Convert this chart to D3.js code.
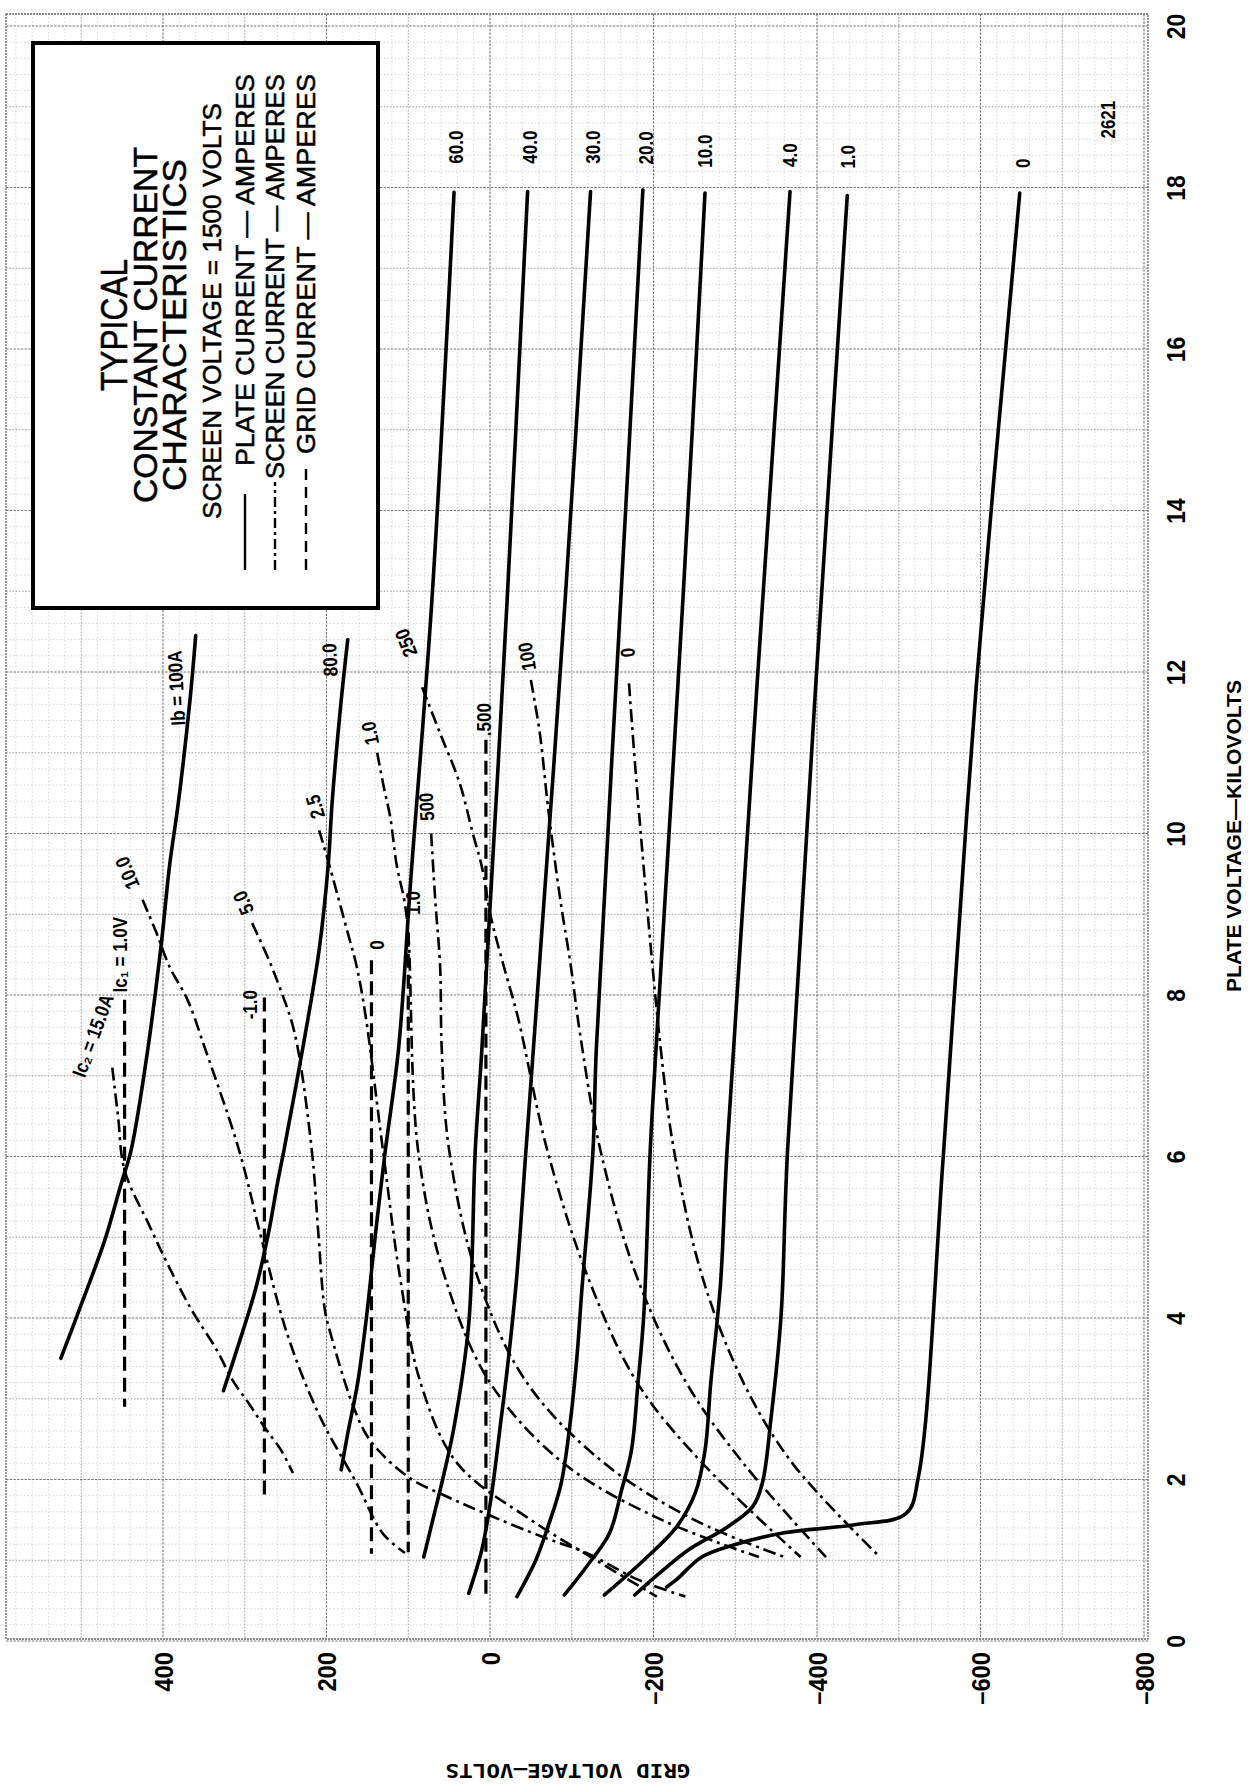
<!DOCTYPE html>
<html><head><meta charset="utf-8">
<script src="https://cdn.jsdelivr.net/npm/d3@7"></script>
<style>body{margin:0;background:#fff}</style>
</head><body>
<svg id="c" width="1259" height="1788"></svg>
<script>
// ---------- data (plate kV, grid volts) ----------
const plateTicks = [0,2,4,6,8,10,12,14,16,18,20];
const gridTicks = [400,200,0,-200,-400,-600,-800];

// plate current curves (solid)
const ib100 = [[12.45,360],[11.65,367],[10.4,381],[9.6,392],[8.64,402],[7.3,419],[6.08,439],[5.67,451],[4.97,471],[4.22,498],[3.5,525]];
const ib80  = [[12.4,174],[11.65,182],[10.4,193],[9.6,198],[8.56,209],[7.4,228],[6.08,252],[5.67,260],[5.05,271],[4.35,287],[3.69,307],[3.1,326]];
const ib60  = [[17.94,44],[12.9,71],[9.42,97],[7.32,112],[6.08,128],[5.05,140],[4.02,151],[3.19,162],[2.57,174],[2.12,182]];
const ib40  = [[17.95,-46],[12.9,-21],[7.32,10],[6.08,18],[3.93,26],[2.65,44],[2.04,57],[1.54,69],[1.04,81]];
const ib30  = [[17.95,-123],[12.9,-92],[7.32,-53],[6.08,-44],[4.43,-32],[3.36,-21],[2.7,-13],[1.75,-1],[1.13,10],[0.59,26]];
const ib20  = [[17.97,-187],[12.9,-160],[7.32,-130],[6.08,-126],[4.3,-112],[3.6,-107],[2.78,-99],[1.95,-87],[1.42,-71],[1.0,-56],[0.55,-33]];
const ib10  = [[17.93,-263],[12.9,-236],[7.32,-203],[6.08,-196],[4.02,-188],[3.19,-181],[2.36,-173],[1.87,-161],[1.33,-146],[0.92,-118],[0.57,-91]];
const ib4   = [[17.95,-367],[6.08,-290],[4.43,-282],[3.19,-270],[2.36,-263],[1.83,-251],[1.41,-228],[1.0,-188],[0.57,-140]];
const ib1   = [[17.9,-437],[6.08,-364],[4.02,-356],[2.78,-344],[1.95,-333],[1.66,-321],[1.41,-290],[1.13,-243],[0.88,-212],[0.57,-177]];
const ib0   = [[17.93,-648],[11.85,-595],[6.08,-555],[2.03,-524],[1.58,-509],[1.44,-446],[1.34,-360],[1.19,-298],[1.04,-259],[0.76,-228],[0.67,-216]];

// screen current curves (dash-dot)
const is15  = [[7.1,462],[6.5,455],[5.83,447],[5.13,416],[4.64,393],[4.10,365],[3.6,334],[3.23,315],[2.94,295],[2.65,276],[2.37,256],[2.08,241]];
const is10  = [[9.18,425],[8.77,408],[8.35,392],[7.94,370],[7.32,348],[6.08,307],[5.0,280],[3.8,248],[2.8,209],[1.95,163],[1.33,131],[1.09,104]];
const is5   = [[8.89,291],[8.47,272],[8.06,256],[7.53,239],[6.08,218],[5.05,210],[4.1,202],[3.77,194],[2.9,167],[2.49,147],[2.03,100],[1.79,53],[1.58,6],[1.29,-64],[1.09,-118],[0.76,-181],[0.55,-239]];
const is25  = [[10.04,209],[9.59,196],[9.18,185],[8.77,174],[8.35,163],[7.73,152],[6.08,131],[4.5,110],[3.2,85],[2.2,40],[1.5,-50],[1.0,-130],[0.55,-204]];
const is1   = [[11.0,138],[10.58,130],[10.2,122],[9.6,114],[9.18,105],[8.77,100],[6.08,88],[4.5,55],[3.2,0],[2.2,-90],[1.5,-210],[1.04,-329]];
const is05  = [[10.0,72],[9.18,67],[8.35,61],[7.32,59],[6.08,50],[4.5,15],[3.2,-45],[2.2,-140],[1.5,-250],[1.04,-360]];
const is025 = [[11.81,83],[11.24,61],[10.62,37],[10.0,21],[9.59,10],[8.97,-1],[8.35,-17],[7.73,-34],[6.08,-70],[4.5,-120],[3.2,-180],[2.2,-260],[1.04,-380]];
const is01  = [[11.9,-50],[11.24,-61],[10.41,-70],[10.0,-75],[9.18,-86],[8.35,-99],[7.53,-110],[6.08,-135],[4.5,-180],[3.2,-240],[2.2,-310],[1.04,-411]];
const is0   = [[11.86,-170],[10.41,-181],[7.32,-209],[6.08,-225],[4.5,-260],[3.2,-310],[2.2,-370],[1.04,-477]];

// grid current curves (dashed)
const ic1a = [[7.94,447],[2.9,447]];
const ic1b = [[7.97,276],[1.75,276]];
const ic1c = [[8.43,145],[1.08,145]];
const ic1d = [[8.77,100],[1.1,100]];
const ic1e = [[11.16,5],[0.55,5]];

// labels: [text, plate kV, grid V, angle]
const plateLabels = [["60.0",18.5,42],["40.0",18.5,-49],["30.0",18.5,-126],["20.0",18.49,-190],["10.0",18.45,-263],["4.0",18.4,-367],["1.0",18.38,-438],["0",18.3,-652]];
const sideLabels = [["Ib = 100A",11.8,384,-93],["80.0",12.15,196,-93],["Ic\u2082 = 15.0A",7.5,486,-70]];
const screenLabels = [[null],["10.0",9.51,444],["5.0",9.14,302],["2.5",10.33,214],["1.0",11.24,147],["500",10.33,78],["250",12.36,103],["100",12.19,-45],["0",12.24,-168]];
const gridLabels = [["Ic\u2081 = 1.0V",8.5,453],["-1.0",7.88,294],["0",8.62,138],["1.0",9.14,94],[".500",11.41,7]];

const plateSeries  = [ib100,ib80,ib60,ib40,ib30,ib20,ib10,ib4,ib1,ib0];
const screenSeries = [is15,is10,is5,is25,is1,is05,is025,is01,is0];
const gridSeries   = [ic1a,ic1b,ic1c,ic1d,ic1e];

// ---------- layout ----------
const svg = d3.select("#c");
const gx = d3.scaleLinear().domain([-800,400]).range([1144,163]);   // grid volts -> screen x
const py = d3.scaleLinear().domain([0,20]).range([1641,26]);        // plate kV -> screen y
const L = 6, R = 1148, T = 14, B = 1639;
const FONT = "'Liberation Sans', Arial, Helvetica, sans-serif";

// graph paper
const gridG = svg.append("g");
const vVals = d3.range(-800, 600, 20);
const hVals = d3.range(0, 20.21, 0.2).map(v => +v.toFixed(1));
function lvl(v, a, b){ const m = x => Math.abs(((v % x) + x) % x) < 1e-6; return m(b) ? 2 : (m(a) ? 1 : 0); }
const styles = [{w:0.6,c:"#b0b0b0",d:"1.2,2.4"},{w:0.9,c:"#959595",d:"1.6,1.6"},{w:1.1,c:"#7a7a7a",d:"2.5,1.2"}];
gridG.selectAll("line.v").data(vVals).join("line")
  .attr("x1", d => gx(d)).attr("x2", d => gx(d)).attr("y1", T).attr("y2", B)
  .each(function(d){ const s = styles[lvl(d,100,200)]; d3.select(this).attr("stroke", s.c).attr("stroke-width", s.w).attr("stroke-dasharray", s.d); });
gridG.selectAll("line.h").data(hVals).join("line")
  .attr("y1", d => py(d)).attr("y2", d => py(d)).attr("x1", L).attr("x2", R)
  .each(function(d){ const s = styles[lvl(Math.round(d*10),10,20)]; d3.select(this).attr("stroke", s.c).attr("stroke-width", s.w).attr("stroke-dasharray", s.d); });
svg.append("rect").attr("x", L).attr("y", T).attr("width", R-L).attr("height", B-T)
  .attr("fill","none").attr("stroke","#666").attr("stroke-width",1.3).attr("stroke-dasharray","2,1");

// axes
const xAxis = d3.axisBottom(gx).tickValues(gridTicks).tickSize(0)
  .tickFormat(d => d < 0 ? "\u2013" + (-d) : String(d));
const gxA = svg.append("g").attr("transform", `translate(0,${B+13})`).call(xAxis);
gxA.select(".domain").remove();
gxA.selectAll("text").attr("x",0).attr("y",0).attr("dy","0.36em")
  .attr("transform","rotate(-90) scale(0.95,1)").style("text-anchor","end")
  .style("font-family",FONT).style("font-weight","bold").style("font-size","25px").attr("fill","#000");

const yAxis = d3.axisRight(py).tickValues(plateTicks).tickSize(0);
const gyA = svg.append("g").attr("transform", `translate(1176,0)`).call(yAxis);
gyA.select(".domain").remove();
gyA.selectAll("text").attr("x",0).attr("y",0).attr("dy","0.36em")
  .attr("transform","rotate(-90) scale(0.88,1)").style("text-anchor","middle")
  .style("font-family",FONT).style("font-weight","bold").style("font-size","26px").attr("fill","#000");

svg.append("text").attr("transform","translate(1233,836) rotate(-90)")
  .attr("text-anchor","middle").attr("dy","0.36em")
  .style("font-family",FONT).style("font-weight","bold").style("font-size","21px")
  .attr("textLength",312).attr("lengthAdjust","spacingAndGlyphs")
  .text("PLATE VOLTAGE\u2014KILOVOLTS");
svg.append("text").attr("transform","translate(568,1771) rotate(180)")
  .attr("text-anchor","middle").attr("dy","0.36em")
  .style("font-family","'DejaVu Sans Mono', monospace").style("font-weight","bold").style("font-size","20px")
  .attr("textLength",245).attr("lengthAdjust","spacingAndGlyphs")
  .text("GRID VOLTAGE\u2013VOLTS");

// curves
const line = d3.line().x(d => gx(d[1])).y(d => py(d[0])).curve(d3.curveCatmullRom.alpha(0.5));
const curveG = svg.append("g").attr("fill","none").attr("stroke","#000").attr("stroke-linecap","butt");
curveG.selectAll("path.g").data(gridSeries).join("path").attr("d", line)
  .attr("stroke-width",3.2).attr("stroke-dasharray","14,7");
curveG.selectAll("path.s").data(screenSeries).join("path").attr("d", line)
  .attr("stroke-width",2.6).attr("stroke-dasharray","13,5,3,5");
curveG.selectAll("path.p").data(plateSeries).join("path").attr("d", line)
  .attr("stroke-width",3.6).attr("stroke-linecap","round");

// labels
const labG = svg.append("g").style("font-family",FONT).style("font-weight","bold").style("font-size","20px");
function addLabel(t, kv, v, ang){
  labG.append("text").attr("transform",`translate(${gx(v)},${py(kv)}) rotate(${ang}) scale(0.85,1)`)
    .attr("text-anchor","middle").attr("dy","0.36em").text(t);
}
plateLabels.forEach(d => addLabel(d[0], d[1], d[2], -90));
sideLabels.forEach(d => addLabel(d[0], d[1], d[2], d[3]));
gridLabels.forEach(d => addLabel(d[0], d[1], d[2], -90));
screenLabels.forEach((d,i) => {
  if (d[0] === null) return;
  const s = screenSeries[i];
  const a = Math.atan2(py(s[0][0]) - py(s[1][0]), gx(s[0][1]) - gx(s[1][1])) * 180 / Math.PI;
  addLabel(d[0], d[1], d[2], a);
});
addLabel("2621", 18.84, -756, -90);

// legend box
const lg = svg.append("g");
lg.append("rect").attr("x",33).attr("y",43).attr("width",345).attr("height",565)
  .attr("fill","#fff").attr("stroke","#000").attr("stroke-width",4);
const legT = [
  {t:"TYPICAL", x:114, fs:36, len:132, anchor:"middle", y:325},
  {t:"CONSTANT CURRENT", x:145, fs:33, len:356, anchor:"middle", y:325},
  {t:"CHARACTERISTICS", x:174, fs:33, len:332, anchor:"middle", y:325},
  {t:"SCREEN VOLTAGE = 1500 VOLTS", x:212, fs:26, len:416, anchor:"middle", y:311},
  {t:"PLATE CURRENT \u2014 AMPERES", x:245, fs:25, len:392, anchor:"end", y:74},
  {t:"SCREEN CURRENT \u2014 AMPERES", x:275, fs:25, len:405, anchor:"end", y:74},
  {t:"GRID CURRENT \u2014 AMPERES", x:306, fs:25, len:380, anchor:"end", y:74}
];
legT.forEach(d => {
  lg.append("text").attr("transform",`translate(${d.x},${d.y}) rotate(-90)`)
    .attr("text-anchor",d.anchor).attr("dy","0.36em")
    .style("font-family",FONT).style("font-size",d.fs+"px")
    .attr("stroke","#000").attr("stroke-width",0.5)
    .attr("textLength",d.len).attr("lengthAdjust","spacingAndGlyphs").text(d.t);
});
lg.append("line").attr("x1",245).attr("x2",245).attr("y1",570).attr("y2",494).attr("stroke","#000").attr("stroke-width",2.4);
lg.append("line").attr("x1",275).attr("x2",275).attr("y1",570).attr("y2",482).attr("stroke","#000").attr("stroke-width",2.4).attr("stroke-dasharray","10,4,3,4");
lg.append("line").attr("x1",306).attr("x2",306).attr("y1",570).attr("y2",465).attr("stroke","#000").attr("stroke-width",2.4).attr("stroke-dasharray","11,7");
</script>
</body></html>
